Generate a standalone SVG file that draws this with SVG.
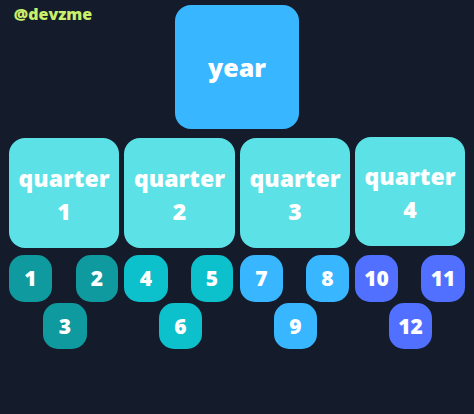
<svg xmlns="http://www.w3.org/2000/svg" width="474" height="414" viewBox="0 0 474 414">
<style>
text{font-family:"Open Sans","Liberation Sans",sans-serif;font-weight:800;fill:#ffffff;text-anchor:middle}
.q rect{fill:#5ce1e6}
.q text{font-size:23px}
.n text{font-size:21px}
.g1 rect{fill:#0e9a9e}
.g2 rect{fill:#0cc0cc}
.g3 rect{fill:#38b6ff}
.g4 rect{fill:#5170ff}
</style>
<rect width="474" height="414" fill="#141c2b"/>
<text x="53" y="20" style="font-size:16px;fill:#c9ef6b">@devzme</text>
<g id="connectors"></g>
<g id="year"><rect x="175" y="5" width="124" height="124" rx="16" fill="#38b6ff"/><text x="237" y="77" style="font-size:25px">year</text></g>
<g id="q1" class="q"><rect x="9" y="138" width="110" height="110" rx="16"/><text x="64" y="187">quarter</text><text x="64" y="220">1</text></g>
<g id="q2" class="q"><rect x="124" y="138" width="111" height="110" rx="16"/><text x="179.5" y="187">quarter</text><text x="179.5" y="220">2</text></g>
<g id="q3" class="q"><rect x="240" y="138" width="110" height="110" rx="16"/><text x="295" y="187">quarter</text><text x="295" y="220">3</text></g>
<g id="q4" class="q"><rect x="355" y="137" width="110" height="109" rx="16"/><text x="410" y="185">quarter</text><text x="410" y="218">4</text></g>
<g id="m1" class="n g1"><rect x="9" y="255" width="43" height="47" rx="15"/><text x="30.5" y="286">1</text></g>
<g id="m2" class="n g1"><rect x="76" y="255" width="42" height="47" rx="15"/><text x="97" y="286">2</text></g>
<g id="m3" class="n g1"><rect x="43" y="303" width="44" height="46" rx="15"/><text x="65" y="333.5">3</text></g>
<g id="m4" class="n g2"><rect x="124" y="255" width="44" height="47" rx="15"/><text x="146" y="286">4</text></g>
<g id="m5" class="n g2"><rect x="191" y="255" width="42" height="47" rx="15"/><text x="212" y="286">5</text></g>
<g id="m6" class="n g2"><rect x="159" y="303" width="43" height="46" rx="15"/><text x="180.5" y="333.5">6</text></g>
<g id="m7" class="n g3"><rect x="240" y="255" width="43" height="47" rx="15"/><text x="261.5" y="286">7</text></g>
<g id="m8" class="n g3"><rect x="306" y="255" width="43" height="47" rx="15"/><text x="327.5" y="286">8</text></g>
<g id="m9" class="n g3"><rect x="274" y="303" width="43" height="46" rx="15"/><text x="295.5" y="333.5">9</text></g>
<g id="m10" class="n g4"><rect x="355" y="255" width="43" height="47" rx="15"/><text x="376.5" y="286">10</text></g>
<g id="m11" class="n g4"><rect x="421" y="255" width="44" height="47" rx="15"/><text x="443" y="286">11</text></g>
<g id="m12" class="n g4"><rect x="389" y="303" width="43" height="46" rx="15"/><text x="410.5" y="333.5">12</text></g>
</svg>
